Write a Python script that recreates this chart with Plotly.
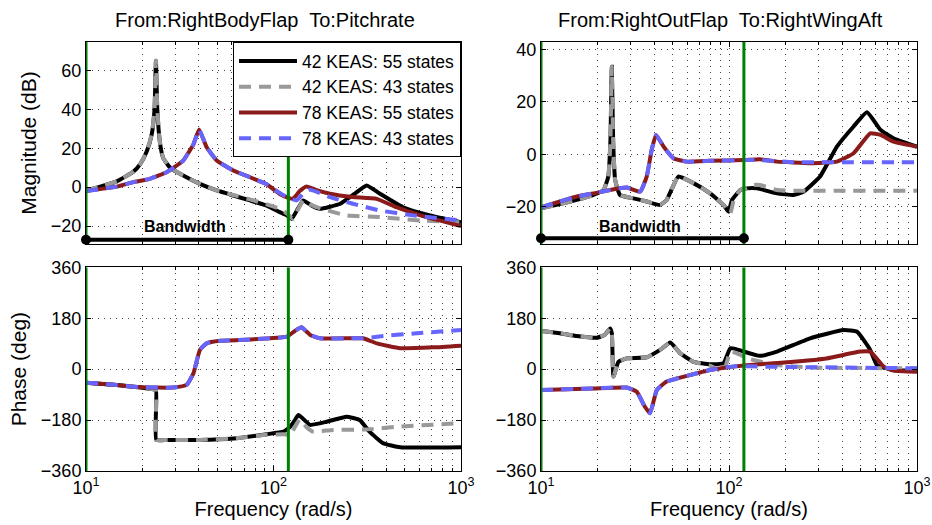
import plotly.graph_objects as go

# ---------------- data ----------------
# Top-left: From RightBodyFlap To Pitchrate, magnitude (dB)
tl_f_k42_55 = [10, 11.9, 14.6, 17.9, 19.5, 21.1, 22.4, 23.2, 23.6, 24.0, 24.8, 25.8, 28.1, 33.0, 40.5, 49.8,
               61.1, 74.9, 91.9, 108, 117.6, 125, 135, 144, 160, 177, 227, 270, 314, 370, 491, 683, 1000]
tl_m_k42_55 = [-1.7, 0.3, 3.0, 8.0, 12, 18.5, 27, 40, 65, 40, 23, 15, 10, 6, 1.7, -1.7,
               -4.3, -6.8, -9.5, -12.8, -14.5, -16.3, -11, -6.8, -9.5, -11.1, -8.5, -3.5, 0.9, -3.4, -10.3, -14.5, -18]
tl_f_k42_43 = [10, 11.9, 14.6, 17.9, 19.5, 21.1, 22.4, 23.2, 23.6, 24.0, 24.8, 25.8, 28.1, 33.0, 40.5, 49.8,
               61.1, 74.9, 91.9, 108, 118, 127, 135, 144, 155, 170, 245, 370, 607, 1000]
tl_m_k42_43 = [-1.7, 0.3, 3.0, 8.0, 12, 18.5, 27, 40, 65, 40, 23, 15, 10, 6, 1.7, -1.7,
               -4.0, -6.3, -8.8, -11.1, -13.5, -16.3, -11.5, -6.8, -8.5, -10.3, -14.5, -15.4, -17.1, -18]
tl_f_k78_55 = [10, 14.6, 17.9, 21.9, 26.9, 33.0, 37.4, 40.1, 44.0, 49.8, 61.1, 74.9, 91.9, 108, 120,
               127, 138, 150, 170, 200, 265, 355, 452, 607, 1000]
tl_m_k78_55 = [-2, 0.3, 2.6, 4.3, 7.7, 13.7, 22, 29.6, 20.5, 13.7, 8.6, 5.1, 1.5, -3.5, -5.5,
               -6, -2, 0.4, -1.5, -3.4, -5.1, -6, -10.3, -14.5, -20]
tl_f_k78_43 = [10, 14.6, 17.9, 21.9, 26.9, 33.0, 37.4, 40.1, 44.0, 49.8, 61.1, 74.9, 91.9, 108, 120,
               133, 145, 157, 200, 265, 370, 556, 1000]
tl_m_k78_43 = [-2, 0.3, 2.6, 4.3, 7.7, 13.7, 22, 29.6, 20.5, 13.7, 8.6, 5.1, 1.5, -3, -5.5,
               -6.8, -3, -1.3, -5.1, -8.5, -12, -14.5, -17.1]

# Top-right: From RightOutFlap To RightWingAft, magnitude (dB)
tr_f_k42_55 = [10, 12.6, 15.5, 19.0, 21.5, 22.8, 23.4, 23.8, 24.2, 24.8, 26.3, 31.0, 36.5, 43.0, 46.6,
               53.8, 64.7, 79.4, 93.5, 99.4, 103.7, 115, 124.7, 141, 180, 220, 250, 305, 375, 460,
               542, 640, 750, 1000]
tr_m_k42_55 = [-20.6, -19, -17.4, -15.5, -13.6, -8.5, 5, 33.4, 5, -9.8, -15.5, -16.8, -18, -19.3, -17.4,
               -8.5, -11, -14.9, -19.3, -21.9, -17.4, -13.6, -13, -13, -14.9, -15.5, -14.2, -8.5, 2.9, 10.6,
               16, 9.3, 6.1, 2.9]
tr_f_k42_43 = [10, 12.6, 15.5, 19.0, 21.5, 22.8, 23.4, 23.8, 24.2, 24.8, 26.3, 31.0, 36.5, 43.0, 46.6,
               53.8, 64.7, 79.4, 93.5, 101.6, 106, 115, 124.7, 135, 146, 180, 220, 400, 1000]
tr_m_k42_43 = [-20.6, -19, -17.4, -15.5, -13.6, -8.5, 5, 33.4, 5, -9.8, -15.5, -16.8, -18, -19.3, -17.4,
               -8.5, -11, -14.9, -19.3, -22.5, -17.4, -13.6, -13, -11.7, -11.7, -13.6, -13.9, -13.9, -13.9]
tr_f_k78_55 = [10, 12.6, 15.5, 19.0, 23.3, 28.6, 33.7, 36.5, 38.8, 40.9, 44.9, 50.6, 59.6, 79.4, 119.7,
               146, 180, 270, 375, 460, 564, 640, 750, 1000]
tr_m_k78_55 = [-20.2, -18, -16.1, -14.9, -13.6, -12.7, -14.2, -8.5, 1.7, 7.4, 2.9, -1.5, -2.8, -2.5, -2.2,
               -1.9, -2.8, -3.4, -2.8, 0.4, 8, 7.4, 4.8, 2.9]
tr_f_k78_43 = [10, 12.6, 15.5, 19.0, 23.3, 28.6, 33.7, 36.5, 38.8, 40.9, 44.9, 50.6, 59.6, 79.4, 119.7,
               146, 220, 1000]
tr_m_k78_43 = [-20.2, -18, -16.1, -14.9, -13.6, -12.7, -14.2, -8.5, 1.7, 7.4, 2.9, -1.5, -2.8, -2.5, -2.2,
               -2.2, -3, -3]

# Bottom-left: phase (deg)
bl_f_k42_55 = [10, 14.6, 17.9, 22.4, 23.6, 23.7, 26.9, 40.5, 61.1, 91.9, 113, 123, 130, 135.7, 141, 157,
               192, 245, 288, 325, 385, 474, 1000]
bl_p_k42_55 = [-47.7, -56, -62, -70, -74, -250, -250, -250, -245, -230, -221, -203, -180, -162, -170, -197,
               -186, -168, -180, -221, -262, -276, -276]
bl_f_k42_43 = [10, 14.6, 17.9, 22.4, 23.6, 23.7, 26.9, 40.5, 61.1, 91.9, 113, 123, 130, 138, 150, 163,
               208, 314, 474, 1000]
bl_p_k42_43 = [-47.7, -56, -62, -70, -74, -250, -250, -250, -245, -232, -230, -233, -205, -178, -205, -221,
               -215, -213, -203, -191]
bl_f_k78_55 = [10, 14.6, 17.9, 23.8, 29.2, 34.4, 37.4, 40.5, 44.0, 51.9, 74.9, 118, 130, 141, 157, 177,
               255, 300, 356, 474, 712, 1000]
bl_p_k78_55 = [-47.7, -56, -62, -65, -65, -56, -15, 68, 91, 100, 105, 115, 135, 148, 121, 109,
               109, 109, 91, 74, 77, 83]
bl_f_k78_43 = [10, 14.6, 17.9, 23.8, 29.2, 34.4, 37.4, 40.5, 44.0, 51.9, 74.9, 118, 130, 141, 157, 177,
               255, 300, 385, 580, 1000]
bl_p_k78_43 = [-47.7, -56, -62, -65, -65, -56, -15, 68, 91, 100, 105, 115, 135, 148, 121, 109,
               109, 109, 117, 127, 138]

# Bottom-right: phase (deg)
br_f_k42_55 = [10, 12.6, 15.5, 19.8, 21.8, 23.3, 23.8, 24.3, 25.8, 28.6, 36.5, 43.0, 48.7, 55.0, 64.7,
               79.4, 93.5, 101.6, 110, 146, 180, 270, 406, 480, 564, 611, 750, 1000]
br_p_k42_55 = [135, 127, 117, 111, 121, 144, 127, -26, 26, 38, 42, 68, 94, 56, 26,
               17, 21, 74, 70, 47, 62, 109, 138, 132, 68, 15, -3, -5]
br_f_k42_43 = [10, 12.6, 15.5, 19.8, 21.8, 23.3, 23.8, 24.3, 25.8, 28.6, 36.5, 43.0, 48.7, 55.0, 64.7,
               79.4, 93.5, 101.6, 110, 130, 180, 270, 1000]
br_p_k42_43 = [135, 127, 117, 111, 121, 144, 127, -26, 26, 38, 42, 68, 94, 56, 26,
               12, -9, 62, 56, 35, 15, 6, 3]
br_f_k78_55 = [10, 19.0, 28.6, 32.3, 35.7, 38.0, 41.3, 46.6, 59.6, 79.4, 119.7, 220, 330, 500, 564,
               665, 750, 1000]
br_p_k78_55 = [-74, -68, -65, -80, -133, -156, -74, -44, -24, -3, 13, 26, 38, 62, 62,
               9, -5, -9]
br_f_k78_43 = [10, 19.0, 28.6, 32.3, 35.7, 38.0, 41.3, 46.6, 59.6, 79.4, 110, 146, 1000]
br_p_k78_43 = [-74, -68, -65, -80, -133, -156, -74, -44, -24, -3, 11, 9, 3]

series_names = ["42 KEAS: 55 states", "42 KEAS: 43 states", "78 KEAS: 55 states", "78 KEAS: 43 states"]
bandwidth_f = [10, 120]
bandwidth_db_left = -27
bandwidth_db_right = -32
mag_ticks_left = [-20, 0, 20, 40, 60]
mag_ticks_right = [-20, 0, 20, 40]
phase_ticks = [-360, -180, 0, 180, 360]
x_tickvals = [10, 100, 1000]
x_ticktext = ["10<sup>1</sup>", "10<sup>2</sup>", "10<sup>3</sup>"]
titles = ["From:RightBodyFlap  To:Pitchrate", "From:RightOutFlap  To:RightWingAft"]

# ---------------- styling ----------------
FONT = "Liberation Sans, Arial, Helvetica, sans-serif"
styles = [
    dict(color="#000000", width=4, dash="solid"),
    dict(color="#999999", width=4, dash="12px,8px"),
    dict(color="#8b1a1a", width=4, dash="solid"),
    dict(color="#6666ff", width=4, dash="12px,8px"),
]
GREEN = "#008000"

W, H = 932, 525
ML, MR, MT, MB = 86, 15, 42, 54
PW, PH = W - ML - MR, H - MT - MB

def fx(px):
    return (px - ML) / PW

def fy(py):
    return (H - MB - py) / PH

dom_x = {"L": [fx(86), fx(461)], "R": [fx(541), fx(917)]}
dom_y = {"T": [fy(244), fy(42)], "B": [fy(471), fy(267.3)]}

fig = go.Figure()

panels = [
    ("", "L", "T", [(tl_f_k42_55, tl_m_k42_55), (tl_f_k42_43, tl_m_k42_43), (tl_f_k78_55, tl_m_k78_55), (tl_f_k78_43, tl_m_k78_43)], [-29.2, 74.6], mag_ticks_left),
    ("2", "R", "T", [(tr_f_k42_55, tr_m_k42_55), (tr_f_k42_43, tr_m_k42_43), (tr_f_k78_55, tr_m_k78_55), (tr_f_k78_43, tr_m_k78_43)], [-34.2, 42.8], mag_ticks_right),
    ("3", "L", "B", [(bl_f_k42_55, bl_p_k42_55), (bl_f_k42_43, bl_p_k42_43), (bl_f_k78_55, bl_p_k78_55), (bl_f_k78_43, bl_p_k78_43)], [-360, 360], phase_ticks),
    ("4", "R", "B", [(br_f_k42_55, br_p_k42_55), (br_f_k42_43, br_p_k42_43), (br_f_k78_55, br_p_k78_55), (br_f_k78_43, br_p_k78_43)], [-360, 360], phase_ticks),
]

minor_vals = [v * d for d in (10, 100) for v in range(2, 10)]
grid_dash = "1px,5px"
grid_col = "#444444"

layout = dict(
    width=W, height=H, autosize=False,
    margin=dict(l=ML, r=MR, t=MT, b=MB, autoexpand=False),
    paper_bgcolor="white", plot_bgcolor="white",
    font=dict(family=FONT, size=18, color="black"),
    showlegend=True,
    legend=dict(
        x=fx(461), xanchor="right", y=1, yanchor="top",
        bgcolor="white", bordercolor="black", borderwidth=1,
        font=dict(size=17.5, family=FONT), itemwidth=58,
        tracegroupgap=0,
    ),
)

annotations = []
for idx, (suf, col, row, data, yr, yt) in enumerate(panels):
    xa = "x" + suf
    ya = "y" + suf
    for k, (f, v) in enumerate(data):
        fig.add_trace(go.Scatter(
            x=f, y=v, mode="lines", xaxis=xa, yaxis=ya,
            line=dict(color=styles[k]["color"], width=styles[k]["width"], dash=styles[k]["dash"],
                      shape="spline", smoothing=0.4),
            name=series_names[k], showlegend=(idx == 0), hoverinfo="skip",
        ))
    for gx in bandwidth_f:
        fig.add_trace(go.Scatter(
            x=[gx, gx], y=yr, mode="lines", xaxis=xa, yaxis=ya,
            line=dict(color=GREEN, width=3), showlegend=False, hoverinfo="skip",
            cliponaxis=False,
        ))
    if row == "T":
        bw = bandwidth_db_left if col == "L" else bandwidth_db_right
        fig.add_trace(go.Scatter(
            x=bandwidth_f, y=[bw, bw], mode="lines+markers", xaxis=xa, yaxis=ya,
            line=dict(color="black", width=4), marker=dict(color="black", size=10),
            showlegend=False, hoverinfo="skip", cliponaxis=False,
        ))
        annotations.append(dict(
            x=1.527, y=(-20 if col == "L" else -27.6), xref=xa, yref=ya,
            text="<b>Bandwidth</b>", showarrow=False, font=dict(size=16, family=FONT),
            xanchor="center", yanchor="middle",
        ))

    xkey = "xaxis" + suf
    ykey = "yaxis" + suf
    layout[xkey] = dict(
        type="log", range=[1, 3], domain=dom_x[col], anchor=ya, automargin=False,
        tickvals=x_tickvals, ticktext=x_ticktext if row == "B" else ["", "", ""],
        showticklabels=(row == "B"), ticklabeloverflow="allow",
        ticks="inside", ticklen=5, tickcolor="black",
        showline=True, linecolor="black", linewidth=1, mirror="ticks",
        showgrid=True, gridcolor=grid_col, griddash=grid_dash, gridwidth=1,
        zeroline=False,
        minor=dict(tickvals=minor_vals, ticks="inside", ticklen=3, tickcolor="black",
                   showgrid=True, gridcolor=grid_col, griddash=grid_dash, gridwidth=1),
        tickfont=dict(size=18),
        title=dict(text="Frequency (rad/s)" if row == "B" else "", standoff=2, font=dict(size=20)),
    )
    layout[ykey] = dict(
        range=yr, domain=dom_y[row], anchor=xa, automargin=False,
        tickvals=yt,
        ticks="inside", ticklen=5, tickcolor="black",
        showline=True, linecolor="black", linewidth=1, mirror="ticks",
        showgrid=True, gridcolor=grid_col, griddash=grid_dash, gridwidth=1,
        zeroline=False, tickfont=dict(size=18),
        title=dict(text=("Magnitude (dB)" if row == "T" else "Phase (deg)") if col == "L" else "",
                   standoff=8, font=dict(size=21)),
    )

for i, t in enumerate(titles):
    cx = (265 if i == 0 else 720)
    annotations.append(dict(
        x=fx(cx), y=fy(20), xref="paper", yref="paper", text=t, showarrow=False,
        font=dict(size=20, family=FONT), xanchor="center", yanchor="middle",
    ))

layout["annotations"] = annotations
fig.update_layout(**layout)
fig.write_html(
    "out.html",
    config={"displayModeBar": False, "responsive": False},
    post_script="document.body.style.margin='0';document.body.style.padding='0';",
)
